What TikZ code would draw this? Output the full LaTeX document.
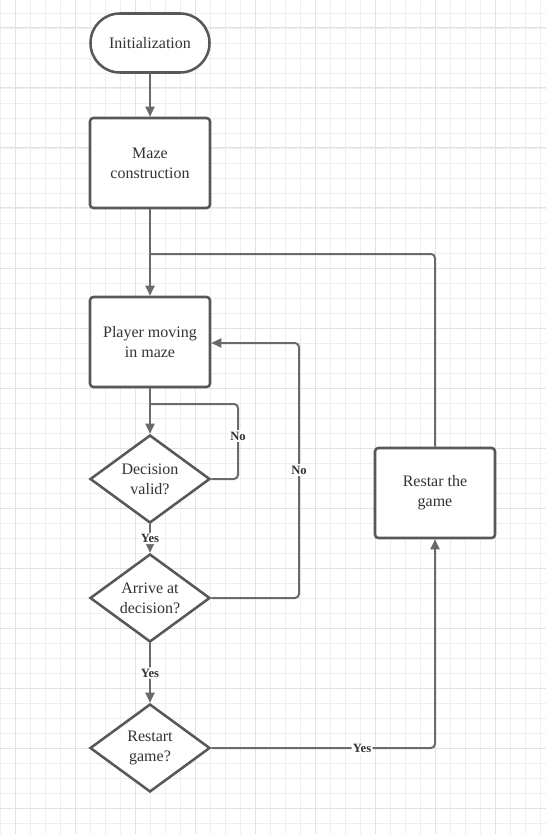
\documentclass[tikz,border=0pt]{standalone}
\usepackage{fontspec}
\setmainfont{Liberation Serif}
\usetikzlibrary{shapes.geometric,arrows.meta}
\definecolor{gridminor}{HTML}{EEEEEE}
\definecolor{gridmajor}{HTML}{E3E3E3}
\definecolor{edgecol}{HTML}{6A6A6A}
\definecolor{boxcol}{HTML}{585858}
\definecolor{txtcol}{HTML}{333333}
\tikzset{
  minorline/.style={draw=gridminor, line width=0.7pt},
  majorline/.style={draw=gridmajor, line width=0.75pt},
  basebox/.style={draw=boxcol, line width=1.9pt, fill=white, text=txtcol, align=center,
     font=\fontsize{12}{15}\selectfont, inner sep=0pt},
  procbox/.style={basebox, rectangle, rounded corners=2.5pt, minimum width=90pt, minimum height=67.5pt},
  termbox/.style={basebox, rectangle, rounded corners=22pt, minimum width=89.25pt, minimum height=44.25pt},
  decbox/.style={basebox, diamond, aspect=1.36, minimum width=90pt, minimum height=66pt},
  conn/.style={draw=edgecol, line width=1.5pt, rounded corners=3pt},
  arr/.style={conn, -{Triangle[length=7.5pt,width=6.75pt]}},
  lbl/.style={fill=white, text=txtcol, font=\fontsize{9.5}{10}\selectfont\bfseries, inner sep=1pt}
}
\begin{document}
\begin{tikzpicture}[x=0.75pt, y=-0.75pt]
\useasboundingbox (0,0) rectangle (546,834);
\fill[white] (0,0) rectangle (546,834);
% grid
\foreach \x in {0,15,...,545} \draw[minorline] (\x,0) -- (\x,834);
\foreach \y in {13,28,...,834} \draw[minorline] (0,\y) -- (546,\y);
\foreach \x in {15,75,...,545} \draw[majorline] (\x,0) -- (\x,834);
\foreach \y in {28,88,...,834} \draw[majorline] (0,\y) -- (546,\y);
% nodes
\node[termbox] (init) at (150,43) {Initialization};
\node[procbox] (maze) at (150,163) {Maze\\construction};
\node[procbox] (player) at (150,342) {Player moving\\in maze};
\node[decbox] (valid) at (150,479) {Decision\\valid?};
\node[decbox] (arrive) at (150,598) {Arrive at\\decision?};
\node[decbox] (restartq) at (150,748) {Restart\\game?};
\node[procbox] (restar) at (435,493) {Restar the\\game};
% helper coordinates
\coordinate (join) at (150,254);
\coordinate (nv) at (238,404);
\coordinate (na) at (299,343);
% connectors
\draw[arr] (init) -- (maze);
\draw[arr] (maze) -- (player);
\draw[conn] (restar.north) |- (join);
\draw[arr] (player) -- (valid);
\draw[conn] (valid.east) -| (nv) -- (player.south |- nv);
\node[lbl] (nov) at (238,436) {No};
\draw[arr] (valid) -- node[lbl] {Yes} (arrive);
\draw[arr] (arrive.east) -| (na) -- (player.east |- na);
\node[lbl] (noa) at (299,470) {No};
\draw[arr] (arrive) -- node[lbl] {Yes} (restartq);
\draw[arr] (restartq.east) -| node[lbl, pos=0.337] {Yes} (restar.south);
\end{tikzpicture}
\end{document}
